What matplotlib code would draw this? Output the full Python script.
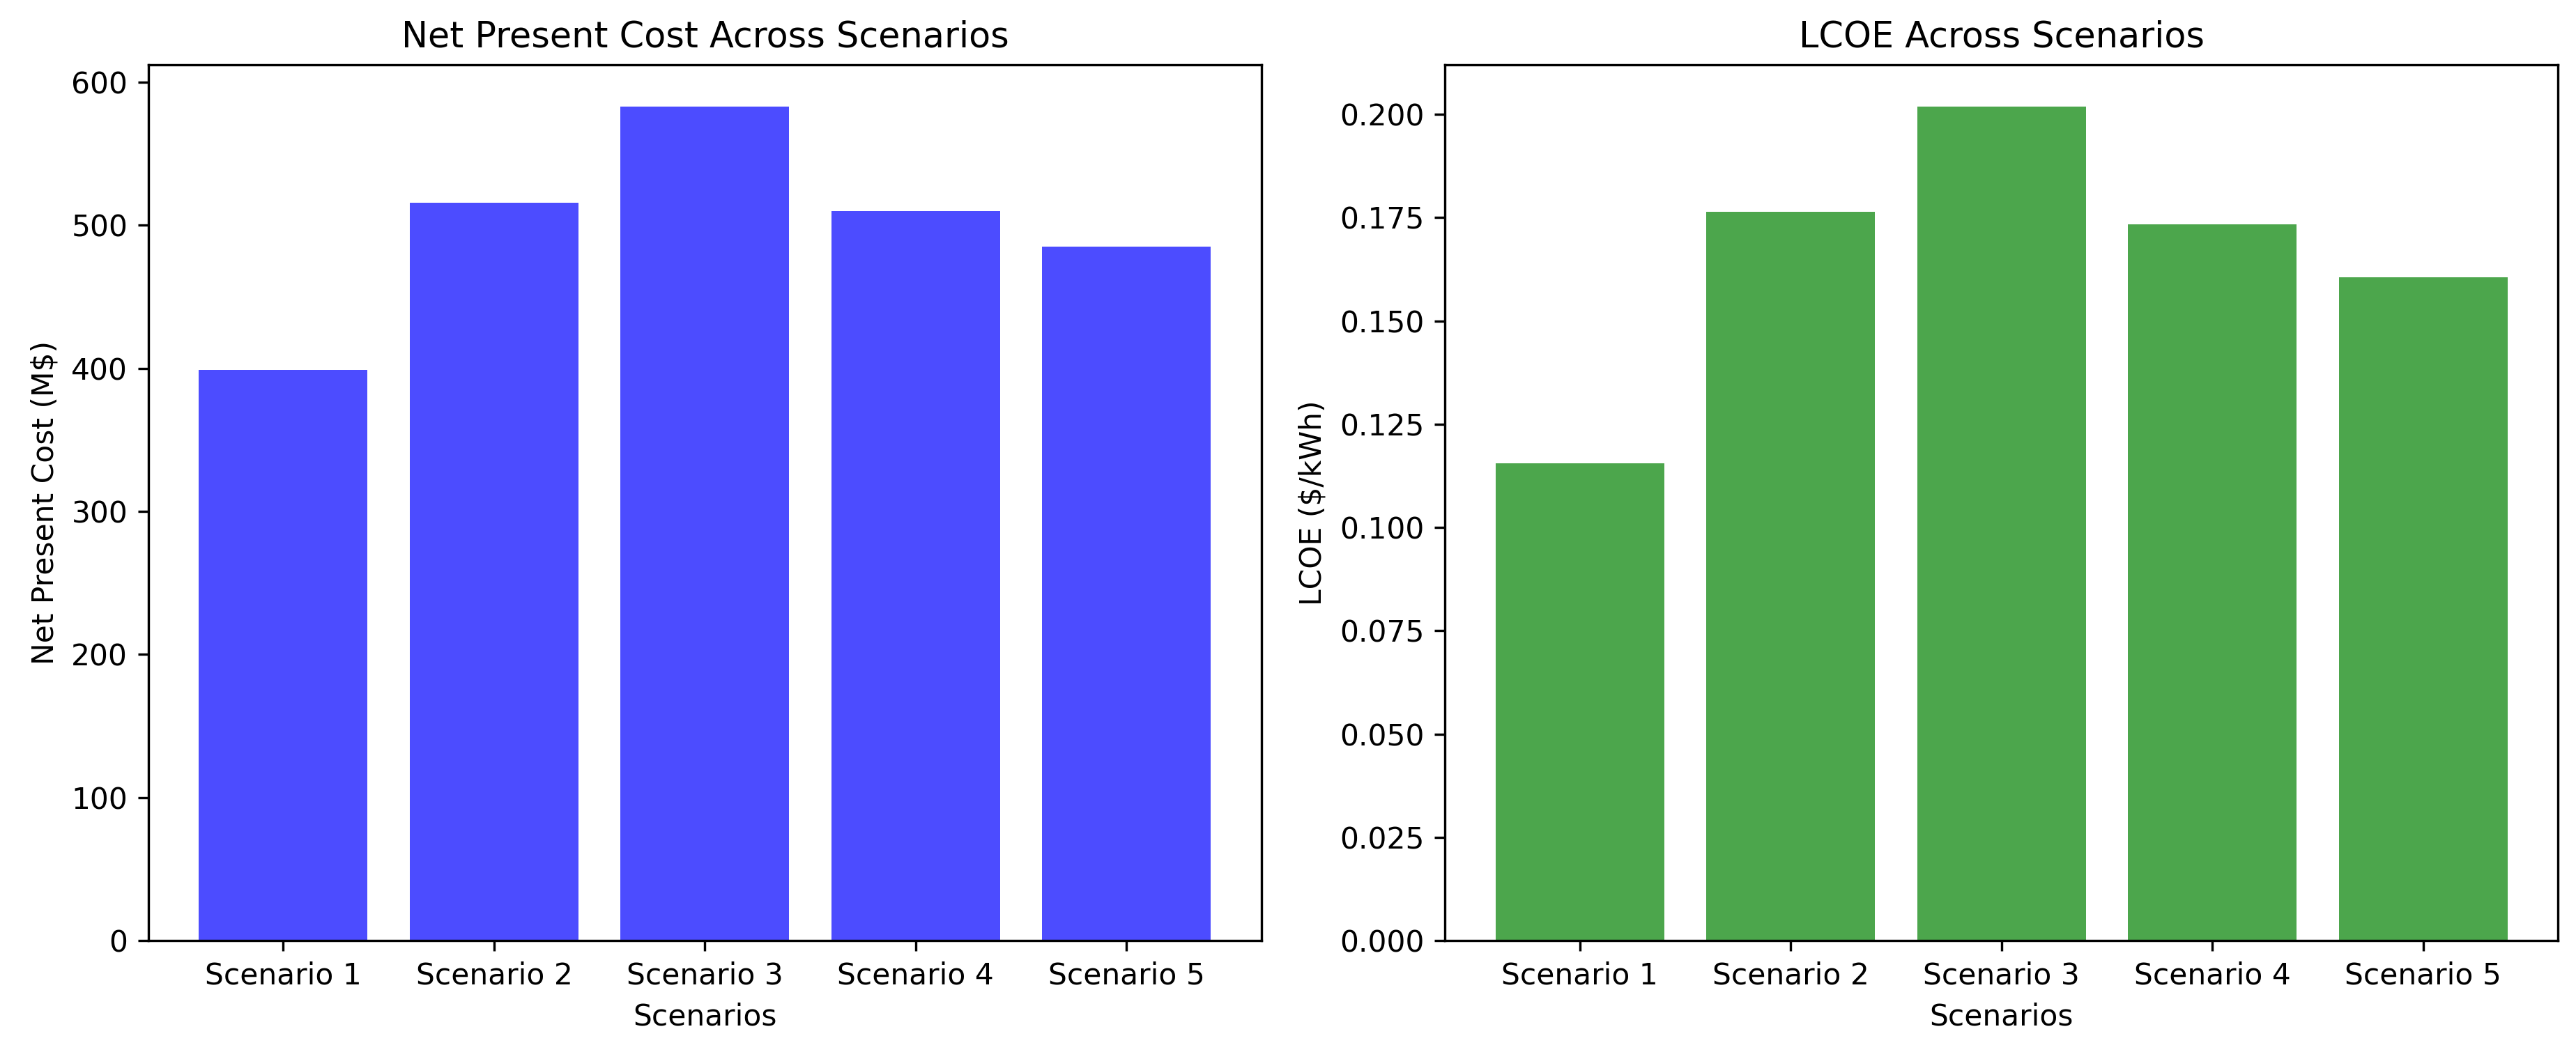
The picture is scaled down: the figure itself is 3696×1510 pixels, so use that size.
import matplotlib
matplotlib.use("Agg")
import matplotlib.pyplot as plt

scenarios = ["Scenario 1", "Scenario 2", "Scenario 3", "Scenario 4", "Scenario 5"]
npc_values = [399, 516, 583, 510, 485]
lcoe_values = [0.1155, 0.1765, 0.2019, 0.1734, 0.1605]

DPI = 305.5
fig = plt.figure(figsize=(3696 / DPI, 1510 / DPI), dpi=DPI)
ax1 = fig.add_axes([0.0576, 0.106, 0.4321, 0.8323])
ax2 = fig.add_axes([0.5609, 0.106, 0.4321, 0.8323])

ax1.bar(scenarios, npc_values, color="blue", alpha=0.7)
ax1.set_title("Net Present Cost Across Scenarios")
ax1.set_xlabel("Scenarios")
ax1.set_ylabel("Net Present Cost (M$)")

ax2.bar(scenarios, lcoe_values, color="green", alpha=0.7)
ax2.set_title("LCOE Across Scenarios")
ax2.set_xlabel("Scenarios")
ax2.set_ylabel("LCOE ($/kWh)")

fig.savefig("out.png", dpi=DPI)
